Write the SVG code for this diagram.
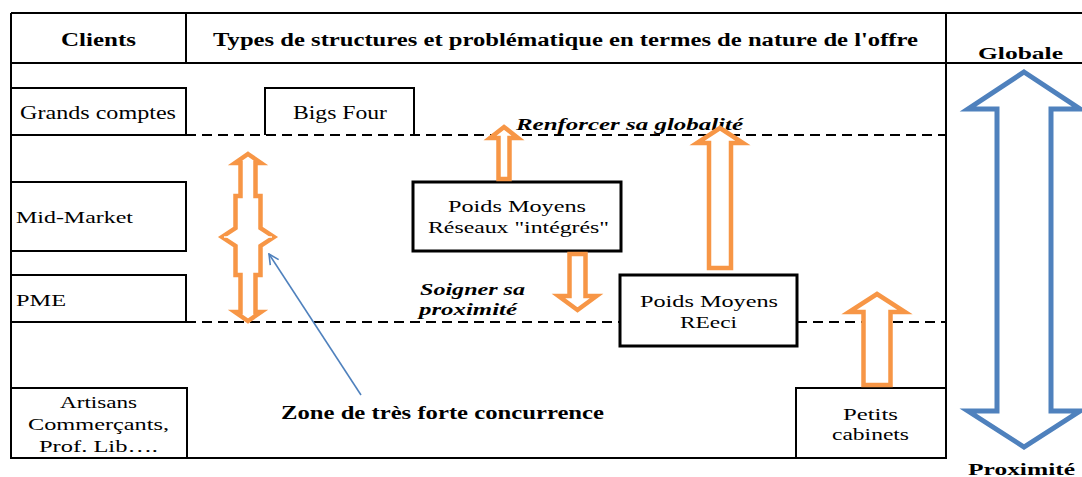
<svg xmlns="http://www.w3.org/2000/svg" width="1082" height="477" viewBox="0 0 1082 477">
<style>
text{font-family:"Liberation Serif","Times New Roman",serif;fill:#000}
.b{font-weight:bold}
.bi{font-weight:bold;font-style:italic}
.r{font-size:16px}
.line{stroke:#000;stroke-width:2;fill:none}
.box{stroke:#000;stroke-width:2;fill:none}
.box3{stroke:#000;stroke-width:3;fill:#fff}
.dash{stroke:#000;stroke-width:2;stroke-dasharray:10 6;fill:none}
.oa{fill:#fff;stroke:#F79646;stroke-width:4.5;stroke-linejoin:miter}
.ba{fill:#fff;stroke:#4F81BD;stroke-width:5;stroke-linejoin:miter}
</style>
<defs>
<marker id="open" viewBox="0 0 12 12" refX="11" refY="6" markerWidth="12" markerHeight="12" markerUnits="userSpaceOnUse" orient="auto">
<path d="M1,1 L11,6 L1,11" fill="none" stroke="#4F81BD" stroke-width="1.6"/>
</marker>
</defs>
<g id="frame">
<line class="line" x1="11" y1="13" x2="1082" y2="13"/>
<line class="line" x1="11" y1="63" x2="1082" y2="63"/>
<line class="line" x1="11" y1="13" x2="11" y2="458"/>
<line class="line" x1="946" y1="13" x2="946" y2="458"/>
<line class="line" x1="11" y1="458" x2="946" y2="458"/>
<line class="line" x1="186" y1="13" x2="186" y2="63"/>
<line class="dash" x1="186" y1="135" x2="946" y2="135"/>
<line class="dash" x1="186" y1="322" x2="620" y2="322"/>
<line class="dash" x1="797" y1="322" x2="946" y2="322"/>
</g>
<g id="header">
<text class="b" x="61" y="46" font-size="18" textLength="75" lengthAdjust="spacingAndGlyphs">Clients</text>
<text class="b" x="213" y="46" font-size="18" textLength="705" lengthAdjust="spacingAndGlyphs">Types de structures et problématique en termes de nature de l'offre</text>
<text class="b" x="978" y="59" font-size="17" textLength="85" lengthAdjust="spacingAndGlyphs">Globale</text>
<text class="b" x="968" y="475" font-size="17" textLength="107" lengthAdjust="spacingAndGlyphs">Proximité</text>
</g>
<g id="grands-comptes">
<rect class="box" x="11" y="88" width="175" height="47"/>
<text x="20" y="119" font-size="18" textLength="156" lengthAdjust="spacingAndGlyphs">Grands comptes</text>
</g>
<g id="bigs-four">
<polyline class="line" points="265,135 265,88 414,88 414,135"/>
<text x="293" y="119" font-size="18" textLength="94" lengthAdjust="spacingAndGlyphs">Bigs Four</text>
</g>
<g id="mid-market">
<rect class="box" x="11" y="182" width="175" height="69"/>
<text x="16" y="223" font-size="17" textLength="117" lengthAdjust="spacingAndGlyphs">Mid-Market</text>
</g>
<g id="pme">
<rect class="box" x="11" y="275" width="175" height="47"/>
<text x="16" y="306" font-size="17" textLength="50" lengthAdjust="spacingAndGlyphs">PME</text>
</g>
<g id="artisans">
<rect class="box" x="11" y="388" width="176" height="70"/>
<text x="60" y="408" font-size="16" textLength="77" lengthAdjust="spacingAndGlyphs">Artisans</text>
<text x="28" y="430" font-size="16" textLength="141" lengthAdjust="spacingAndGlyphs">Commerçants,</text>
<text x="39" y="452" font-size="16" textLength="119" lengthAdjust="spacingAndGlyphs">Prof. Lib….</text>
</g>
<g id="petits-cabinets">
<rect class="box" x="796" y="388" width="150" height="70"/>
<text x="843" y="420" font-size="16" textLength="55" lengthAdjust="spacingAndGlyphs">Petits</text>
<text x="832" y="440" font-size="16" textLength="77" lengthAdjust="spacingAndGlyphs">cabinets</text>
</g>
<g id="poids-moyens-reseaux">
<rect class="box3" x="413" y="182" width="208" height="69"/>
<text x="448" y="212" font-size="16" textLength="138" lengthAdjust="spacingAndGlyphs">Poids Moyens</text>
<text x="428" y="233" font-size="16" textLength="181" lengthAdjust="spacingAndGlyphs">Réseaux "intégrés"</text>
</g>
<g id="poids-moyens-reeci">
<rect class="box3" x="620" y="275" width="177" height="71"/>
<text x="640" y="307" font-size="16" textLength="138" lengthAdjust="spacingAndGlyphs">Poids Moyens</text>
<text x="680" y="328" font-size="16" textLength="57" lengthAdjust="spacingAndGlyphs">REeci</text>
</g>
<g id="labels">
<text class="bi" x="516" y="130" font-size="16" textLength="227" lengthAdjust="spacingAndGlyphs">Renforcer sa globalité</text>
<text class="bi" x="420" y="295" font-size="17" textLength="105" lengthAdjust="spacingAndGlyphs">Soigner sa</text>
<text class="bi" x="419" y="315" font-size="17" textLength="98" lengthAdjust="spacingAndGlyphs">proximité</text>
<text class="b" x="281" y="419" font-size="18" textLength="323" lengthAdjust="spacingAndGlyphs">Zone de très forte concurrence</text>
</g>
<g id="connectors">
<polygon id="arrow-concurrence" class="oa" points="248,154 261,163 255.5,163 255.5,196 260.5,196 260.5,228 274,237 260.5,246 260.5,275 255.5,275 255.5,312 261,312 248,321 235,312 240.5,312 240.5,275 235.5,275 235.5,246 222,237 235.5,228 235.5,196 240.5,196 240.5,163 235,163"/>
<line x1="224" y1="237" x2="272" y2="237" stroke="#fff" stroke-width="1.5"/>
<polygon id="arrow-reseaux-up" class="oa" points="504,127 518,138 509.5,138 509.5,179 498.5,179 498.5,138 490,138"/>
<polygon id="arrow-reseaux-down" class="oa" points="569.5,254 585.5,254 585.5,296 596.5,296 577.5,310 558.5,296 569.5,296"/>
<polygon id="arrow-reeci-up" class="oa" points="720,128 743,143 731,143 731,268 709,268 709,143 697,143"/>
<polygon id="arrow-petits-up" class="oa" points="877,294 905,312 890.5,312 890.5,385 863.5,385 863.5,312 849,312"/>
<polygon id="arrow-globale-proximite" class="ba" points="1024,72 1080,109 1051,109 1051,411 1080,411 1024,447 968,411 997,411 997,109 968,109"/>
<line x1="361" y1="395" x2="269" y2="254" stroke="#4F81BD" stroke-width="1.6" marker-end="url(#open)"/>
</g>
</svg>
